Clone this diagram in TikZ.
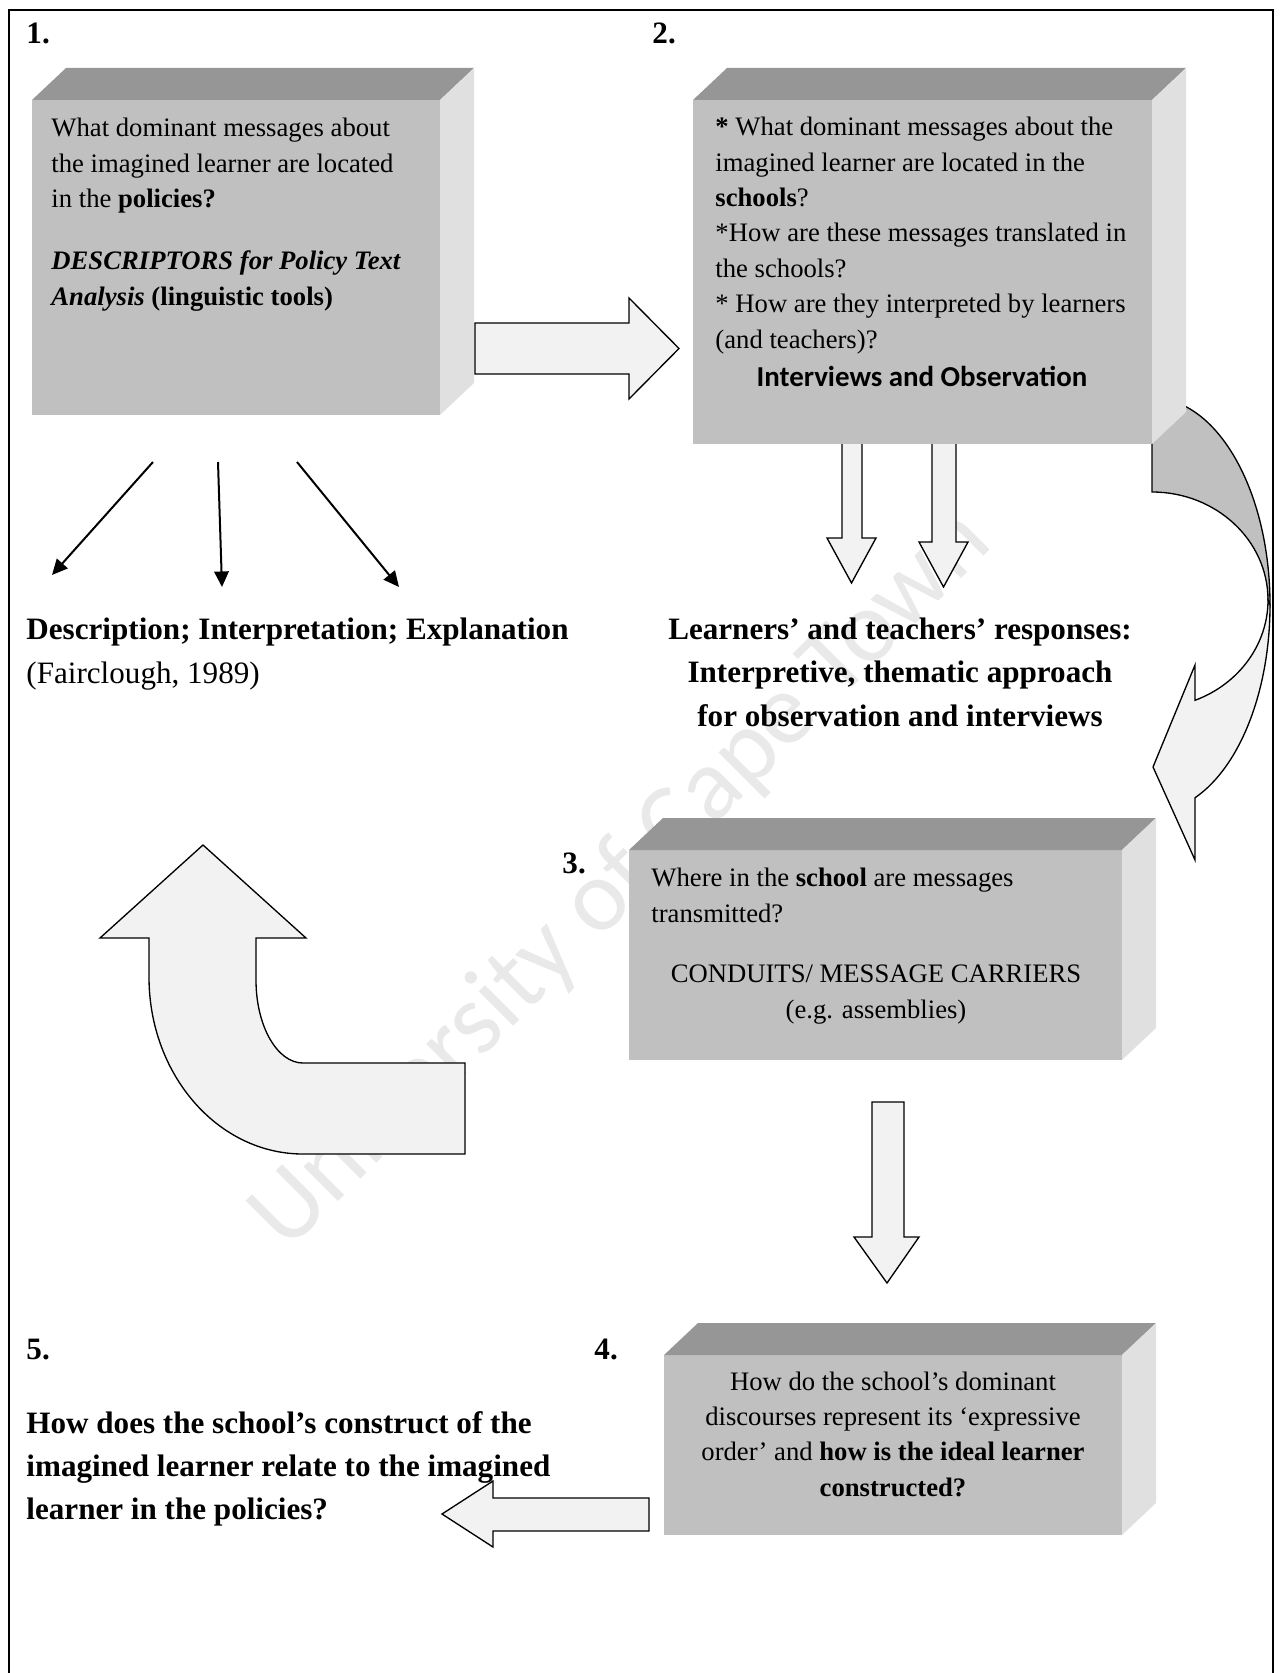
\documentclass[tikz,border=0pt]{standalone}
\usepackage{fontspec}
\setmainfont{Liberation Serif}
\newfontfamily\calibrifont{Carlito}
\usepackage{tikz}
\definecolor{BoxFront}{HTML}{C0C0C0}
\definecolor{BoxTop}{HTML}{969696}
\definecolor{BoxSide}{HTML}{E0E0E0}
\definecolor{ArrowFill}{HTML}{F2F2F2}
\definecolor{Watermark}{HTML}{E9E9E9}
\usetikzlibrary{arrows.meta,positioning,calc,fit}

\begin{document}
\begin{tikzpicture}[
x=0.45pt, y=-0.45pt,
front/.style={
	fill=BoxFront,
	inner sep=0pt,
	outer sep=0pt
},
topface/.style={fill=BoxTop},
sideface/.style={fill=BoxSide},
blockarrow/.style={
	draw=black,
	fill=ArrowFill,
	line width=0.6pt,
	line join=miter
},
thinarrow/.style={
	line width=0.9pt,
	-{Triangle[length=7pt,width=6.5pt]}
},
qtext/.style={
	inner sep=0pt,
	align=left,
	anchor=base west,
	font=\fontsize{12}{15.9}\selectfont
},
ctext/.style={
	inner sep=0pt,
	align=center,
	anchor=base,
	font=\fontsize{12}{15.9}\selectfont
},
bigtext/.style={
	inner sep=0pt,
	align=left,
	anchor=base west,
	font=\fontsize{14}{19.4}\selectfont
},
step label/.style={
	inner sep=0pt,
	anchor=base west,
	font=\fontsize{14}{16}\selectfont\bfseries
},
]
\useasboundingbox (0,0) rectangle (1282,1673);

% watermark
\node[rotate=45, text=Watermark, font=\calibrifont\fontsize{46}{46}\selectfont] (wm) at (622,880) {University of Cape Town};

% frame
\draw[line width=0.9pt] (8.5,1700) -- (8.5,10) -- (1273,10) -- (1273,1700);

% curved arrow from box 2 down to box 3
\fill[BoxFront, draw=black, line width=0.6pt] (1152,398) arc[start angle=-90, end angle=0, x radius=118, y radius=207]
	-- (1268,600) arc[start angle=0, end angle=-90, x radius=116, y radius=108] -- cycle;
\draw[blockarrow] (1195,700.3) arc[start angle=68.24, end angle=0, x radius=116, y radius=108]
	-- (1270,605) arc[start angle=0, end angle=68.63, x radius=118, y radius=207]
	-- (1195,860) -- (1153,767) -- (1195,665) -- cycle;

% block arrows below box 2
\draw[blockarrow] (842,430) -- (842,538) -- (827,538) -- (851.5,583) -- (876,538) -- (862,538) -- (862,430);
\draw[blockarrow] (932,430) -- (932,542) -- (919,542) -- (943.5,587) -- (968,542) -- (956,542) -- (956,430);

% boxes
\node[front, fit={(32,100) (440,415)}] (box1) {};
\node[front, fit={(693,100) (1152,444)}] (box2) {};
\node[front, fit={(629,850) (1122,1060)}] (box3) {};
\node[front, fit={(664,1355) (1122,1535)}] (box4) {};
\foreach \b in {box1,box2,box3,box4} {
	\fill[topface] (\b.north west) -- ++(34,-32) -- ([shift={(34,-32)}]\b.north east) -- (\b.north east) -- cycle;
	\fill[sideface] (\b.north east) -- ++(34,-32) -- ([shift={(34,-32)}]\b.south east) -- (\b.south east) -- cycle;
}

% step numbers
\node[step label] (n1) at (26,44) {1.};
\node[step label] (n2) at (652,44) {2.};
\node[step label] (n3) at (562,873) {3.};
\node[step label] (n4) at (594,1359) {4.};
\node[step label] (n5) at (26,1359) {5.};

% box texts (anchored at the baseline of their last line)
\node[qtext] (q1) at (51,305) {What dominant messages about\\the imagined learner are located\\in the \textbf{policies?}\\[12pt]\textbf{\textit{DESCRIPTORS for Policy Text}}\\\textbf{\textit{Analysis}} \textbf{(linguistic tools)}};
\node[qtext] (q2) at (715,348) {\textbf{*} What dominant messages about the\\imagined learner are located in the\\\textbf{schools}?\\*How are these messages translated in\\the schools?\\* How are they interpreted by learners\\(and teachers)?};
\node[inner sep=0pt, anchor=base, font=\calibrifont\fontsize{13}{15}\selectfont\bfseries] (io) at (922,386) {Interviews and Observation};
\node[qtext] (q3) at (651,922) {Where in the \textbf{school} are messages\\transmitted?};
\node[ctext] (c3) at (876,1018) {CONDUITS/ MESSAGE CARRIERS\\(e.g. assemblies)};
\node[ctext] (q4) at (893,1496) {How do the school’s dominant\\discourses represent its ‘expressive\\order’ and \textbf{how is the ideal learner}\\\textbf{constructed?}};

% free texts
\node[bigtext] (die) at (26,683) {\textbf{Description; Interpretation; Explanation}\\(Fairclough, 1989)};
\node[bigtext, align=center, anchor=base, font=\fontsize{14}{19.4}\selectfont\bfseries] (resp) at (900,726) {Learners’ and teachers’ responses:\\Interpretive, thematic approach\\for observation and interviews};
\node[bigtext, font=\fontsize{14}{19.2}\selectfont\bfseries] (q5) at (26,1519) {How does the school’s construct of the\\imagined learner relate to the imagined\\learner in the policies?};

% arrows from box 1
\coordinate (t1) at (153,462);
\coordinate (t2) at (218,462);
\coordinate (t3) at (297,462);
\coordinate (h1) at (52,575);
\coordinate (h2) at (222,587);
\coordinate (h3) at (399,587);
\foreach \i in {1,2,3}
	\draw[thinarrow] (t\i) -- (h\i);

% block arrows
\draw[blockarrow] (475,323) -- (629,323) -- (629,298) -- (679,348.5) -- (629,399) -- (629,374) -- (475,374) -- cycle;
\draw[blockarrow] (872,1102) -- (872,1237) -- (854,1237) -- (887,1283) -- (919,1237) -- (904,1237) -- (904,1102) -- cycle;
\draw[blockarrow] (649,1498) -- (493,1498) -- (493,1481) -- (442,1514) -- (493,1547) -- (493,1531) -- (649,1531) -- cycle;
\draw[blockarrow] (465,1063) -- (303,1063) arc[start angle=90, end angle=180, x radius=47, y radius=83]
	-- (256,938) -- (306,938) -- (203,845) -- (100,938) -- (149,938) -- (149,977)
	arc[start angle=180, end angle=90, x radius=154, y radius=177] -- (465,1154) -- cycle;

\end{tikzpicture}
\end{document}
